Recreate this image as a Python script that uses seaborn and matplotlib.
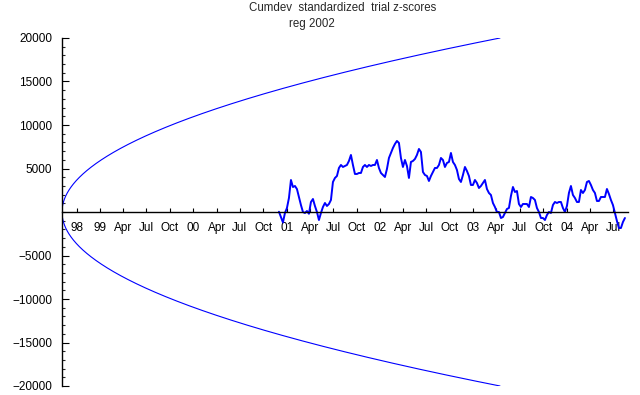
import numpy as np
import pandas as pd
import matplotlib
matplotlib.use('Agg')
import matplotlib.pyplot as plt
import seaborn as sns
from matplotlib.ticker import MultipleLocator

title_lines = ["Cumdev  standardized  trial z-scores", "reg 2002"]

# cumulative deviation, evenly spaced in time from start to end
cumdev_start = '2000-12-01'
cumdev_end = '2004-08-16'
cumdev = [30, -600, -1200, -115, 460, 1610, 3680, 2870, 2990, 2640,
          1720, 800, 0, -115, 115, -200, 1150, 1495, 690, 0,
          -920, -115, 575, 1035, 690, 920, 1380, 3450, 3910, 4140,
          5060, 5405, 5175, 5290, 5405, 5865, 6555, 5405, 4370, 4370,
          4485, 4485, 5175, 5405, 5175, 5405, 5290, 5405, 5405, 5980,
          5060, 4485, 4255, 4025, 4945, 6210, 6785, 7360, 7820, 8165,
          7935, 6210, 5175, 5980, 5290, 3910, 5750, 5865, 6095, 6555,
          7245, 6900, 4600, 4255, 4140, 3565, 4140, 4600, 5060, 5060,
          5405, 6210, 5980, 5175, 5635, 5750, 6785, 5750, 5405, 4830,
          3795, 3450, 4255, 5175, 4715, 4140, 3105, 3105, 3680, 3335,
          2760, 2990, 3335, 3680, 2645, 2185, 1955, 1035, 575, 0,
          0, -690, -575, -115, 345, 460, 1840, 2875, 2300, 2415,
          920, 575, 920, 920, 920, 575, 1725, 1610, 1380, 460,
          0, -690, -690, -920, -345, 0, -115, 805, 1150, 1035,
          1150, 1150, 460, 0, 690, 2185, 2990, 1955, 1610, 1150,
          1150, 2530, 2185, 2530, 3450, 3565, 3105, 2530, 2185, 1265,
          1265, 1725, 1725, 1725, 2645, 2070, 1380, 805, -115, -1035,
          -1840, -1840, -1150, -690]

# probability envelope (sqrt growth from the start of the experiment)
env_start = '1998-08-05'
env_end = '2003-04-15'
env_max = 20000

tick_labels = ['98',
               '99', 'Apr', 'Jul', 'Oct',
               '00', 'Apr', 'Jul', 'Oct',
               '01', 'Apr', 'Jul', 'Oct',
               '02', 'Apr', 'Jul', 'Oct',
               '03', 'Apr', 'Jul', 'Oct',
               '04', 'Apr', 'Jul']
y_ticks = [-20000, -15000, -10000, -5000, 5000, 10000, 15000, 20000]

df = pd.DataFrame({'date': pd.date_range(cumdev_start, cumdev_end, periods=len(cumdev)),
                   'cumdev': cumdev})

env_dates = pd.date_range(env_start, env_end, freq='D')
frac = (env_dates - env_dates[0]).days / (env_dates[-1] - env_dates[0]).days
env = pd.DataFrame({'date': env_dates,
                    'upper': env_max * np.sqrt(frac),
                    'lower': -env_max * np.sqrt(frac)})

sns.set_theme(style='white')
plt.rcParams['font.family'] = ['Liberation Sans', 'DejaVu Sans']

fig = plt.figure(figsize=(6.4, 3.95), dpi=100)
ax = fig.add_axes([62 / 640, 9 / 395, 566 / 640, 348 / 395])

blue = '#0000ff'
sns.lineplot(data=env, x='date', y='upper', color=blue, lw=0.8, ax=ax)
sns.lineplot(data=env, x='date', y='lower', color=blue, lw=0.8, ax=ax)
sns.lineplot(data=df, x='date', y='cumdev', color=blue, lw=1.4, ax=ax)

ax.set_xlim(pd.Timestamp('1998-08-05'), pd.Timestamp('2004-08-28'))
ax.set_ylim(-20000, 20000)

ax.set_xticks(pd.date_range('1998-10-01', '2004-07-01', freq='QS'))
ax.set_xticklabels(tick_labels)
ax.set_yticks(y_ticks)
ax.set_yticklabels([f'{v}'.replace('-', '\u2212') for v in y_ticks])
ax.yaxis.set_minor_locator(MultipleLocator(1000))

ax.set_xlabel('')
ax.set_ylabel('')
ax.spines['top'].set_visible(False)
ax.spines['right'].set_visible(False)
ax.spines['bottom'].set_position(('data', 0))
for s in ('left', 'bottom'):
    ax.spines[s].set_color('black')
    ax.spines[s].set_linewidth(1.0)

ax.tick_params(axis='x', direction='in', length=3, width=0.8, pad=7,
               labelsize=8.5, colors='black', bottom=True)
ax.tick_params(axis='y', which='major', direction='in', length=5, width=0.8,
               pad=7, labelsize=8.5, colors='black', left=True)
ax.tick_params(axis='y', which='minor', direction='in', length=2.5, width=0.8,
               left=True)
ax.grid(False)

fig.text(343 / 640, 1 - 8 / 395, title_lines[0], ha='center', va='center', fontsize=8.3)
fig.text(312 / 640, 1 - 24 / 395, title_lines[1], ha='center', va='center', fontsize=8.3)

fig.savefig('out.png', dpi=100)
